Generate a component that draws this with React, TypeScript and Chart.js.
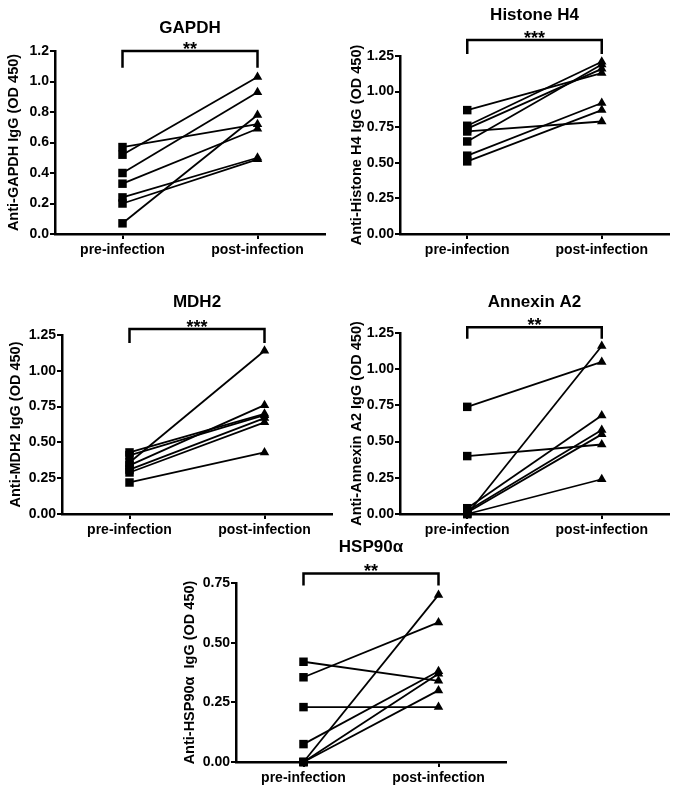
import React, { useEffect, useRef } from "react";
import { Chart, registerables } from "chart.js";

Chart.register(...registerables);

const FONT = '"Liberation Sans", Arial, Helvetica, sans-serif';
Chart.defaults.font.family = FONT;
Chart.defaults.color = "#000";

// ---------- data ----------
const categories = ["pre-infection", "post-infection"];

const gapdhPre = [0.57, 0.52, 0.40, 0.33, 0.24, 0.20, 0.07];
const gapdhPost = [0.72, 1.03, 0.93, 0.69, 0.50, 0.49, 0.78];

const histonePre = [0.87, 0.76, 0.74, 0.72, 0.65, 0.55, 0.51];
const histonePost = [1.13, 1.21, 1.16, 0.79, 1.19, 0.92, 0.87];

const mdh2Pre = [0.43, 0.41, 0.36, 0.34, 0.31, 0.29, 0.22];
const mdh2Post = [0.70, 0.69, 1.14, 0.76, 0.67, 0.64, 0.43];

const annexinPre = [0.74, 0.40, 0.00, 0.04, 0.02, 0.01, 0.00];
const annexinPost = [1.05, 0.48, 1.16, 0.68, 0.58, 0.55, 0.24];

const hspPre = [0.42, 0.355, 0.23, 0.075, 0.0, 0.0, 0.0];
const hspPost = [0.34, 0.585, 0.23, 0.38, 0.70, 0.37, 0.30];

const gapdhTicks = { max: 1.2, step: 0.2, decimals: 1 };
const histoneTicks = { max: 1.25, step: 0.25, decimals: 2 };
const mdh2Ticks = { max: 1.25, step: 0.25, decimals: 2 };
const annexinTicks = { max: 1.25, step: 0.25, decimals: 2 };
const hspTicks = { max: 0.75, step: 0.25, decimals: 2 };

const titles = ["GAPDH", "Histone H4", "MDH2", "Annexin A2", "HSP90\u03b1"];
const yTitles = [
  "Anti-GAPDH IgG (OD 450)",
  "Anti-Histone H4 IgG (OD 450)",
  "Anti-MDH2 IgG (OD 450)",
  "Anti-Annexin A2 IgG (OD 450)",
  "Anti-HSP90\u03b1  IgG (OD 450)",
];
const stars = ["**", "***", "***", "**", "**"];
// significance bracket (top, leg end) in data units
const bracketTops = [1.2, 1.362, 1.292, 1.29, 0.79];
const bracketLegs = [1.09, 1.264, 1.194, 1.21, 0.74];

// ---------- layout (positions / sizes) ----------
const layouts = [
  { left: 0, top: 0, width: 335, height: 265, padTop: 51, padRight: 10, yAxisW: 55, titleOff: -23, yTitlePad: 5 },
  { left: 340, top: 0, width: 338, height: 265, padTop: 56, padRight: 9, yAxisW: 60, titleOff: -41, yTitlePad: 8 },
  { left: 0, top: 280, width: 338, height: 265, padTop: 55, padRight: 6, yAxisW: 62, titleOff: -33, yTitlePad: 7 },
  { left: 340, top: 280, width: 338, height: 265, padTop: 53, padRight: 9, yAxisW: 60, titleOff: -31, yTitlePad: 8 },
  { left: 170, top: 530, width: 350, height: 263, padTop: 53, padRight: 14, yAxisW: 66, titleOff: -36, yTitlePad: 11 },
];

const panels = [
  { pre: gapdhPre, post: gapdhPost, ticks: gapdhTicks },
  { pre: histonePre, post: histonePost, ticks: histoneTicks },
  { pre: mdh2Pre, post: mdh2Post, ticks: mdh2Ticks },
  { pre: annexinPre, post: annexinPost, ticks: annexinTicks },
  { pre: hspPre, post: hspPost, ticks: hspTicks },
];

const annotPlugin = {
  id: "annot",
  afterDraw(chart: any, _args: any, opts: any) {
    const { ctx, chartArea, scales } = chart;
    const x0 = scales.x.getPixelForValue(0);
    const x1 = scales.x.getPixelForValue(1);
    const yt = scales.y.getPixelForValue(opts.bracketTop);
    const yl = scales.y.getPixelForValue(opts.bracketLeg);
    ctx.save();
    ctx.strokeStyle = "#000";
    ctx.lineWidth = 2.5;
    ctx.lineJoin = "miter";
    ctx.beginPath();
    ctx.moveTo(x0, yl);
    ctx.lineTo(x0, yt);
    ctx.lineTo(x1, yt);
    ctx.lineTo(x1, yl);
    ctx.stroke();
    ctx.fillStyle = "#000";
    ctx.textAlign = "center";
    ctx.textBaseline = "alphabetic";
    ctx.font = `bold 18px ${FONT}`;
    ctx.fillText(opts.stars, (x0 + x1) / 2, yt + 4);
    ctx.textBaseline = "middle";
    ctx.font = `bold 17px ${FONT}`;
    ctx.fillText(opts.title, (chartArea.left + chartArea.right) / 2, chartArea.top + opts.titleOff);
    ctx.restore();
  },
};

function Panel({ idx }: { idx: number }) {
  const ref = useRef<HTMLCanvasElement | null>(null);
  const lay = layouts[idx];
  useEffect(() => {
    const p = panels[idx];
    const datasets = p.pre.map((v, i) => ({
      data: [
        { x: 0, y: v },
        { x: 1, y: p.post[i] },
      ],
      borderColor: "#000",
      backgroundColor: "#000",
      borderWidth: 1.8,
      pointStyle: ["rect", "triangle"],
      pointRadius: [6, 5.5],
      pointBorderWidth: 0,
      clip: false as any,
    }));
    const chart = new Chart(ref.current as HTMLCanvasElement, {
      type: "line",
      data: { datasets: datasets as any },
      plugins: [annotPlugin as any],
      options: {
        animation: false,
        responsive: false,
        events: [],
        layout: { padding: { left: 0, top: lay.padTop, right: lay.padRight, bottom: 1 } },
        plugins: {
          legend: { display: false },
          tooltip: { enabled: false },
          annot: {
            bracketTop: bracketTops[idx],
            bracketLeg: bracketLegs[idx],
            stars: stars[idx],
            title: titles[idx],
            titleOff: lay.titleOff,
          },
        } as any,
        scales: {
          x: {
            type: "linear",
            min: -0.5,
            max: 1.5,
            afterBuildTicks: (s: any) => {
              s.ticks = [{ value: 0 }, { value: 1 }];
            },
            afterFit: (s: any) => {
              s.height = 30;
            },
            grid: {
              display: true,
              drawOnChartArea: false,
              drawTicks: true,
              tickLength: 5,
              lineWidth: 2,
              color: "#000",
            },
            border: { display: true, width: 2.5, color: "#000" },
            ticks: {
              padding: 3,
              maxRotation: 0,
              autoSkip: false,
              font: { size: 14, weight: "bold" },
              color: "#000",
              callback: (v: any) => categories[Number(v)] ?? "",
            },
          },
          y: {
            type: "linear",
            min: 0,
            max: p.ticks.max,
            afterFit: (s: any) => {
              s.width = lay.yAxisW;
            },
            grid: {
              display: true,
              drawOnChartArea: false,
              drawTicks: true,
              tickLength: 5,
              lineWidth: 2,
              color: "#000",
            },
            border: { display: true, width: 2.5, color: "#000" },
            ticks: {
              stepSize: p.ticks.step,
              padding: 1,
              font: { size: 14, weight: "bold" },
              color: "#000",
              callback: (v: any) => Number(v).toFixed(p.ticks.decimals),
            },
            title: {
              display: true,
              text: yTitles[idx],
              font: { size: 14.5, weight: "bold" },
              color: "#000",
              padding: { top: lay.yTitlePad, bottom: 0 },
            },
          },
        },
      } as any,
    });
    return () => chart.destroy();
  }, [idx]);
  return (
    <canvas
      ref={ref}
      width={lay.width}
      height={lay.height}
      style={{ position: "absolute", left: lay.left, top: lay.top, width: lay.width, height: lay.height }}
    />
  );
}

export default function App() {
  return (
    <div style={{ position: "absolute", left: 0, top: 0, width: 678, height: 793, background: "#fff" }}>
      {panels.map((_, i) => (
        <Panel key={i} idx={i} />
      ))}
    </div>
  );
}
